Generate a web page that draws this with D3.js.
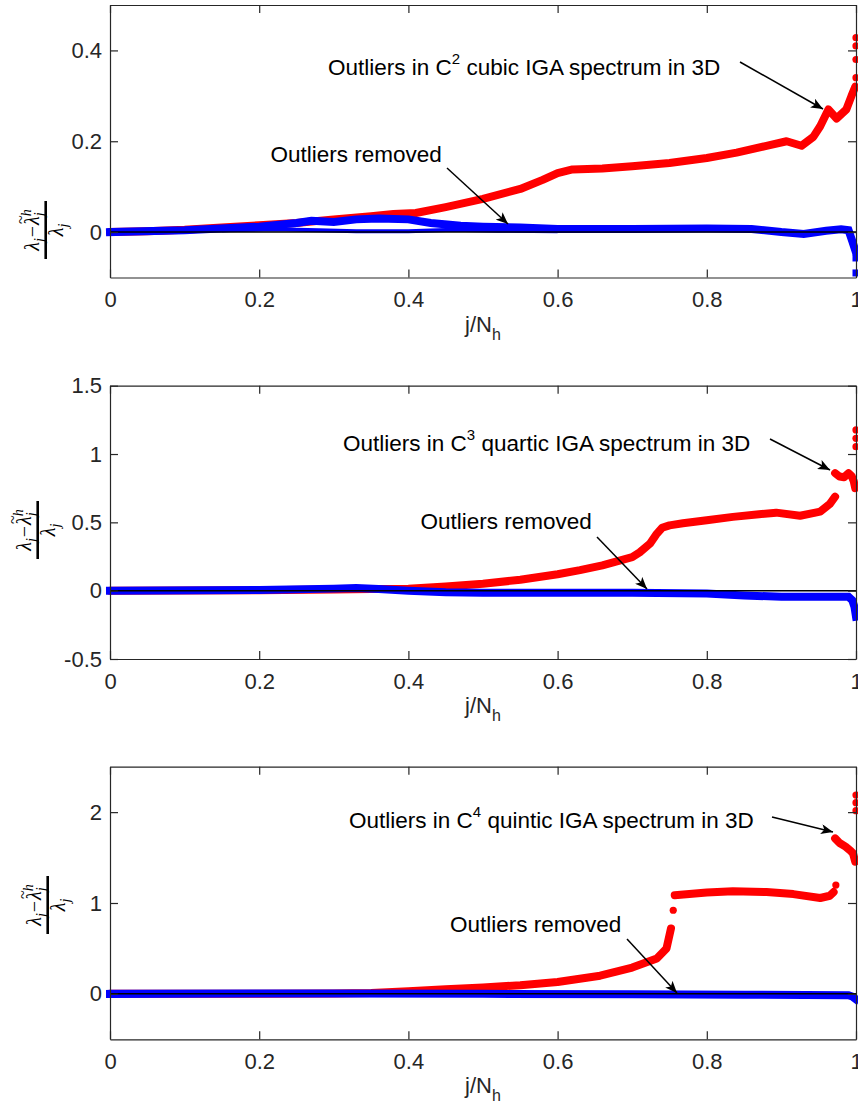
<!DOCTYPE html>
<html>
<head>
<meta charset="utf-8">
<script src="https://cdn.jsdelivr.net/npm/d3@7"></script>
<style>
  html, body { margin: 0; padding: 0; background: #fff; }
  svg { display: block; }
</style>
</head>
<body>
<svg id="chart" width="858" height="1115"></svg>
<script>
// ---------------- data ----------------
const xTicks = [0, 0.2, 0.4, 0.6, 0.8, 1];
const xTickLabels = ["0", "0.2", "0.4", "0.6", "0.8", "1"];

// panel 1 : C2 cubic
const p1YDomain = [-0.1, 0.5];
const p1YTicks = [0, 0.2, 0.4];
const p1YTickLabels = ["0", "0.2", "0.4"];
const p1Red = [[0,0],[0.05,0.002],[0.1,0.005],[0.15,0.01],[0.2,0.015],[0.25,0.02],[0.3,0.028],[0.35,0.035],[0.38,0.04],[0.41,0.042],[0.45,0.055],[0.5,0.073],[0.55,0.095],[0.58,0.115],[0.6,0.13],[0.62,0.138],[0.66,0.14],[0.7,0.145],[0.75,0.152],[0.8,0.163],[0.84,0.175],[0.88,0.19],[0.907,0.2],[0.927,0.19],[0.943,0.21],[0.952,0.233],[0.963,0.27],[0.974,0.25],[0.987,0.27],[0.994,0.3],[0.999,0.32]];
const p1RedOutliers = [[1,0.428],[1,0.41],[1,0.38],[1,0.34]];
const p1Blue = [[0,0],[0.1,0.004],[0.2,0.012],[0.25,0.02],[0.27,0.025],[0.3,0.022],[0.33,0.028],[0.36,0.03],[0.4,0.028],[0.43,0.02],[0.47,0.014],[0.5,0.012],[0.55,0.01],[0.6,0.007],[0.7,0.007],[0.8,0.008],[0.86,0.007],[0.9,0.0],[0.93,-0.004],[0.96,0.003],[0.98,0.006],[0.99,0.004],[0.995,-0.02],[1,-0.045]];
const p1BlueLower = [[0.15,0.004],[0.22,0.006],[0.28,0.004],[0.33,0.002],[0.4,0.002],[0.46,0.005],[0.52,0.003],[0.6,0.002]];
const p1BlueOutliers = [[1,-0.057],[1,-0.09]];

// panel 2 : C3 quartic
const p2YDomain = [-0.5, 1.5];
const p2YTicks = [-0.5, 0, 0.5, 1, 1.5];
const p2YTickLabels = ["-0.5", "0", "0.5", "1", "1.5"];
const p2Red = [[0,0],[0.2,0.003],[0.3,0.008],[0.4,0.015],[0.45,0.03],[0.5,0.05],[0.55,0.08],[0.6,0.12],[0.63,0.15],[0.66,0.185],[0.7,0.245],[0.71,0.28],[0.724,0.345],[0.732,0.41],[0.74,0.46],[0.75,0.478],[0.768,0.493],[0.8,0.515],[0.835,0.54],[0.87,0.56],[0.893,0.571],[0.925,0.548],[0.952,0.578],[0.965,0.635],[0.972,0.688]];
const p2RedTail = [[0.972,0.86],[0.978,0.835],[0.984,0.83],[0.99,0.86],[0.994,0.84],[0.997,0.8],[0.999,0.75]];
const p2RedOutliers = [[1,1.176],[1,1.115],[1,1.054]];
const p2Blue = [[0,0],[0.2,0.005],[0.3,0.015],[0.33,0.02],[0.36,0.012],[0.4,0.0],[0.45,-0.012],[0.5,-0.015],[0.6,-0.015],[0.7,-0.015],[0.8,-0.02],[0.85,-0.035],[0.9,-0.045],[0.95,-0.045],[0.99,-0.045],[0.995,-0.07],[0.998,-0.12],[1,-0.19]];
const p2BlueLower = [];
const p2BlueOutliers = [];

// panel 3 : C4 quintic
const p3YDomain = [-0.5, 2.5];
const p3YTicks = [0, 1, 2];
const p3YTickLabels = ["0", "1", "2"];
const p3Red = [[0,0],[0.2,0.002],[0.3,0.005],[0.35,0.01],[0.4,0.03],[0.45,0.05],[0.5,0.07],[0.55,0.095],[0.6,0.13],[0.657,0.2],[0.7,0.29],[0.733,0.39],[0.746,0.5],[0.752,0.72]];
const p3RedPlateau = [[0.757,1.085],[0.8,1.115],[0.835,1.13],[0.88,1.12],[0.916,1.098],[0.952,1.055],[0.965,1.08],[0.97,1.12]];
const p3RedTail = [[0.972,1.711],[0.978,1.66],[0.986,1.62],[0.992,1.58],[0.996,1.546],[0.999,1.454]];
const p3RedOutliers = [[0.755,0.92],[0.973,1.197],[1,2.188],[1,2.104],[1,2.016]];
const p3Blue = [[0,0],[0.3,0.005],[0.5,0.0],[0.7,-0.005],[0.85,-0.01],[0.99,-0.015],[0.995,-0.03],[1,-0.06]];
const p3BlueLower = [];
const p3BlueOutliers = [];

// annotations
const annotTexts = [
  {pre: "Outliers in C", sup: "2", post: " cubic IGA spectrum in 3D"},
  {pre: "Outliers in C", sup: "3", post: " quartic IGA spectrum in 3D"},
  {pre: "Outliers in C", sup: "4", post: " quintic IGA spectrum in 3D"}
];
const removedText = "Outliers removed";

// ---------------- layout ----------------
const svg = d3.select("#chart");
const axisColor = "#262626";
const fontSans = "'Liberation Sans', Arial, Helvetica, sans-serif";
const fontSerif = "'Liberation Serif', 'Times New Roman', serif";

const panels = [
  {top: 5, bottom: 277.5, ydom: p1YDomain, yt: p1YTicks, ytl: p1YTickLabels,
   lines: [p1Red], redPts: p1RedOutliers,
   blue: p1Blue, blueLow: p1BlueLower, bluePts: p1BlueOutliers,
   ylab: {x: 45.7, y: 230},
   ann: {x: 328, y: 75, ax1: 740, ay1: 62, ax2: 823, ay2: 109},
   rem: {x: 270.5, y: 162, ax1: 447, ay1: 168, ax2: 508, ay2: 224}},
  {top: 385.7, bottom: 659, ydom: p2YDomain, yt: p2YTicks, ytl: p2YTickLabels,
   lines: [p2Red, p2RedTail], redPts: p2RedOutliers,
   blue: p2Blue, blueLow: p2BlueLower, bluePts: p2BlueOutliers,
   ylab: {x: 37.7, y: 530},
   ann: {x: 343, y: 451, ax1: 770, ay1: 439, ax2: 830, ay2: 470},
   rem: {x: 420.5, y: 529, ax1: 597, ay1: 537, ax2: 647, ay2: 589}},
  {top: 766.7, bottom: 1039.3, ydom: p3YDomain, yt: p3YTicks, ytl: p3YTickLabels,
   lines: [p3Red, p3RedPlateau, p3RedTail], redPts: p3RedOutliers,
   blue: p3Blue, blueLow: p3BlueLower, bluePts: p3BlueOutliers,
   ylab: {x: 47.7, y: 905},
   ann: {x: 349, y: 828, ax1: 772, ay1: 817, ax2: 833, ay2: 832},
   rem: {x: 450, y: 932, ax1: 627, ay1: 939, ax2: 677, ay2: 993}}
];

const left = 110, right = 856;

// arrow head marker
const defs = svg.append("defs");
defs.append("marker")
  .attr("id", "arrow")
  .attr("viewBox", "0 0 12 10")
  .attr("refX", 12).attr("refY", 5)
  .attr("markerWidth", 12).attr("markerHeight", 10)
  .attr("markerUnits", "userSpaceOnUse")
  .attr("orient", "auto")
  .append("path")
  .attr("d", "M0,0 L12,5 L0,10 L3,5 Z")
  .attr("fill", "#000");

function buildFraction(gl) {
  const big = 20, small = 14;
  // bar
  gl.append("line").attr("x1", -29).attr("x2", 29).attr("y1", 0).attr("y2", 0)
    .attr("stroke", "#000").attr("stroke-width", 2.6);
  // numerator pieces laid out by measuring
  const num = gl.append("g");
  let cx = 0;
  const base = -7;
  function piece(txt, size, dy, italic, extraBefore) {
    cx += (extraBefore || 0);
    const t = num.append("text").attr("x", cx).attr("y", base + dy)
      .style("font-family", fontSerif).style("font-style", italic ? "italic" : "normal")
      .style("font-size", size + "px").attr("fill", "#000").text(txt);
    const w = t.node().getComputedTextLength();
    return {t, w, x: cx};
  }
  let p = piece("λ", big, 0, true); cx += p.w;
  p = piece("j", small, 5, true, 0); cx += p.w;
  p = piece("−", big, 0, false, 1); cx += p.w + 1;
  const lam2 = piece("λ", big, 0, true); cx += lam2.w;
  // tilde over second lambda
  num.append("text").attr("x", lam2.x + lam2.w / 2 + 1).attr("y", base - 13)
    .attr("text-anchor", "middle")
    .style("font-family", fontSerif).style("font-size", "16px").attr("fill", "#000").text("~");
  const hx = cx;
  p = piece("h", small, -8, true); const wh = p.w;
  cx = hx;
  p = piece("j", small, 5, true); cx += Math.max(wh, p.w);
  num.attr("transform", `translate(${-cx / 2},0)`);
  // denominator
  const den = gl.append("g");
  const d1 = den.append("text").attr("x", 0).attr("y", 17)
    .style("font-family", fontSerif).style("font-style", "italic").style("font-size", big + "px").attr("fill", "#000").text("λ");
  const w1 = d1.node().getComputedTextLength();
  const d2 = den.append("text").attr("x", w1).attr("y", 22)
    .style("font-family", fontSerif).style("font-style", "italic").style("font-size", small + "px").attr("fill", "#000").text("j");
  const w2 = d2.node().getComputedTextLength();
  den.attr("transform", `translate(${-(w1 + w2) / 2},0)`);
}

panels.forEach((p, i) => {
  const x = d3.scaleLinear().domain([0, 1]).range([left, right]);
  const y = d3.scaleLinear().domain(p.ydom).range([p.bottom, p.top]);
  const g = svg.append("g");

  const clipId = "clip" + i;
  defs.append("clipPath").attr("id", clipId)
    .append("rect").attr("x", left - 6).attr("y", p.top).attr("width", right - left + 12).attr("height", p.bottom - p.top);

  const data = g.append("g").attr("clip-path", `url(#${clipId})`);
  const line = d3.line().x(d => x(d[0])).y(d => y(d[1])).curve(d3.curveLinear);

  // red series (dots)
  p.lines.forEach(l => {
    data.append("path").datum(l)
      .attr("d", line)
      .attr("fill", "none").attr("stroke", "#ff0000")
      .attr("stroke-width", 8).attr("stroke-linejoin", "round").attr("stroke-linecap", "round");
  });
  data.selectAll(null).data(p.redPts).enter().append("circle")
    .attr("cx", d => x(d[0])).attr("cy", d => y(d[1])).attr("r", 3.6).attr("fill", "#ff0000");

  // blue series (squares)
  data.append("path").datum(p.blue)
    .attr("d", line)
    .attr("fill", "none").attr("stroke", "#0000ff")
    .attr("stroke-width", 8).attr("stroke-linejoin", "miter").attr("stroke-linecap", "square");
  if (p.blueLow.length) {
    data.append("path").datum(p.blueLow)
      .attr("d", line)
      .attr("fill", "none").attr("stroke", "#0000ff")
      .attr("stroke-width", 4).attr("stroke-linejoin", "round");
  }
  data.selectAll(null).data(p.bluePts).enter().append("rect")
    .attr("x", d => x(d[0]) - 3.5).attr("y", d => y(d[1]) - 3.5).attr("width", 7).attr("height", 7).attr("fill", "#0000ff");

  // zero line
  g.append("line").attr("x1", x(0)).attr("x2", x(1)).attr("y1", y(0)).attr("y2", y(0))
    .attr("stroke", "#000").attr("stroke-width", 1.5);

  // axes
  const xAxisB = d3.axisBottom(x).tickValues(xTicks).tickFormat((d, k) => xTickLabels[k]).tickSizeInner(-8).tickSizeOuter(0).tickPadding(14);
  const xAxisT = d3.axisTop(x).tickValues(xTicks).tickFormat("").tickSizeInner(-8).tickSizeOuter(0);
  const yAxisL = d3.axisLeft(y).tickValues(p.yt).tickFormat((d, k) => p.ytl[k]).tickSizeInner(-8).tickSizeOuter(0).tickPadding(8);
  const yAxisR = d3.axisRight(y).tickValues(p.yt).tickFormat("").tickSizeInner(-8).tickSizeOuter(0);

  const gxb = g.append("g").attr("transform", `translate(0,${p.bottom})`).call(xAxisB);
  const gxt = g.append("g").attr("transform", `translate(0,${p.top})`).call(xAxisT);
  const gyl = g.append("g").attr("transform", `translate(${left},0)`).call(yAxisL);
  const gyr = g.append("g").attr("transform", `translate(${right},0)`).call(yAxisR);
  [gxb, gxt, gyl, gyr].forEach(a => {
    a.select(".domain").attr("stroke", axisColor).attr("stroke-width", 1.2);
    a.selectAll(".tick line").attr("stroke", axisColor).attr("stroke-width", 1.2);
    a.selectAll(".tick text").attr("fill", axisColor).style("font-family", fontSans).style("font-size", "22px");
  });
  gxb.selectAll(".tick text").attr("dy", "0.71em");

  // x label
  const xl = g.append("text").attr("x", (left + right) / 2).attr("y", p.bottom + 54)
    .attr("text-anchor", "middle").attr("fill", axisColor)
    .style("font-family", fontSans).style("font-size", "22px");
  xl.append("tspan").text("j/N");
  xl.append("tspan").attr("dy", 8).style("font-size", "16px").text("h");

  // y label (fraction, rotated)
  const yl = g.append("g").attr("transform", `translate(${p.ylab.x},${p.ylab.y}) rotate(-90)`);
  buildFraction(yl);

  // annotation: outliers
  const a = annotTexts[i];
  const at = g.append("text").attr("x", p.ann.x).attr("y", p.ann.y)
    .style("font-family", fontSans).style("font-size", "22.5px").attr("fill", "#000");
  at.append("tspan").text(a.pre);
  at.append("tspan").attr("dy", -11).style("font-size", "15px").text(a.sup);
  at.append("tspan").attr("dy", 11).text(a.post);
  g.append("line").attr("x1", p.ann.ax1).attr("y1", p.ann.ay1).attr("x2", p.ann.ax2).attr("y2", p.ann.ay2)
    .attr("stroke", "#000").attr("stroke-width", 1.5).attr("marker-end", "url(#arrow)");

  // annotation: removed
  g.append("text").attr("x", p.rem.x).attr("y", p.rem.y)
    .style("font-family", fontSans).style("font-size", "22.5px").attr("fill", "#000")
    .text(removedText);
  g.append("line").attr("x1", p.rem.ax1).attr("y1", p.rem.ay1).attr("x2", p.rem.ax2).attr("y2", p.rem.ay2)
    .attr("stroke", "#000").attr("stroke-width", 1.5).attr("marker-end", "url(#arrow)");
});
</script>
</body>
</html>
